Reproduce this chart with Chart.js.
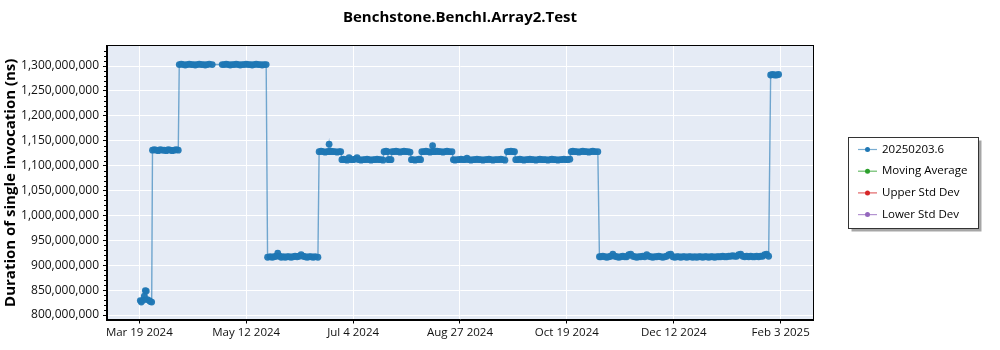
<!DOCTYPE html>
<html>
<head>
<meta charset="utf-8">
<script src="https://cdn.jsdelivr.net/npm/chart.js@4.4.1/dist/chart.umd.min.js"></script>
<style>
html,body{margin:0;padding:0;background:#ffffff;}
#wrap{position:relative;width:1000px;height:350px;}
</style>
</head>
<body>
<div id="wrap"><canvas id="c" width="1000" height="350"></canvas></div>
<script>
const chartTitle = 'Benchstone.BenchI.Array2.Test';
const yAxisTitle = 'Duration of single invocation (ns)';
const seriesLabels = ['20250203.6', 'Moving Average', 'Upper Std Dev', 'Lower Std Dev'];
const seriesColors = ['#1f77b4', '#2ca02c', '#d62728', '#9467bd'];
const xTickDays = [0, 53.5, 107, 160.5, 214, 267.5, 321];
const xTickLabels = ['Mar 19 2024', 'May 12 2024', 'Jul 4 2024', 'Aug 27 2024', 'Oct 19 2024', 'Dec 12 2024', 'Feb 3 2025'];
const yTickValues = [800e6, 850e6, 900e6, 950e6, 1000e6, 1050e6, 1100e6, 1150e6, 1200e6, 1250e6, 1300e6];

// run date as days after Mar 19 2024
const runDayOffsets = [
  0.5,1,2,2.5,3,3.5,4,5,5.5,6.2,
  6.6,7.5,8.5,9.5,10.5,11.5,12.5,13.5,14.5,15.5,16.5,17.5,18.5,19.5,
  20,21,22,23,24,25,26,27,28,29,30,31,32,33,34,35,36.5,
  41.5,42.5,43.5,44.5,45.5,46.5,47.5,48.5,49.5,50.5,51.5,52.5,53.5,54.5,55.5,56.5,57.5,58.5,59.5,60.5,61.5,62.5,63.5,
  64.2,65.5,66.5,67.5,68.5,69.3,70.2,71,72,73,74,75,76,77,78,79,80,81,82,83,84,85,86,87,88,89.4,
  90,91,92,93,94,94.6,95,95.4,96,97,98,99,100,100.8,
  101.4,102.2,103,104,105,106,107,108,109,110,111,112,113,114,115,116,117,118,119,120,121,122,
  122.5,123.5,124.2,124.7,125.3,126,126.5,127.5,128.5,129.5,130.5,131.5,132.5,133.5,134.5,135.5,
  136.2,137,138,139,140,140.8,
  141.4,142.5,143.5,144.5,145.5,146.3,146.8,147.3,148,149,150,151,152,153,154,155,156.5,
  157.2,158,159,160,161,162,163,164,165,166,167,168,169,170,171,172,173,174,175,176,177,178,179,180,181,182,183,
  184.2,185,186,187,187.8,
  188.4,189.5,190.5,191.5,192.5,193.5,194.5,195.5,196.5,197.5,198.5,199.5,200.5,201.5,202.5,203.5,204.5,205.5,206.5,207.5,208.5,209.5,210.5,211.5,212.5,213.5,214.5,215.5,
  216.2,217,218,219,220,221,222,223,224,225,226,227,228,229.5,
  230.3,231,232,233,234,235,236,237,238,239,240,
  241,242,243,244,245,246,247,248,249,250,
  251,252,253,254,255,256,257,258,259,260,
  261,262,263,264,265,266,267,268,269,270,
  271,272,273,274,275,276,277,278,279,280,
  281,282,283,284,285,286,287,288,289,290,
  291,292,293,294,295,296,297,298,299,300,
  301,302,303,304,305,306,307,308,309,310,
  311,312,313,314,315,
  316,317,318,319,320
];

// duration of single invocation, in millions of ns
const durationMillionNs = [
  829,826,830,838,849,848,831,829,827,826,
  1131,1132,1131,1130,1132,1131,1131,1130,1132,1131,1130,1131,1132,1131,
  1303,1304,1303,1302,1303,1304,1303,1303,1302,1303,1304,1303,1303,1302,1303,1304,1303,
  1303,1303,1304,1303,1302,1303,1303,1304,1303,1302,1303,1303,1304,1303,1303,1302,1303,1304,1303,1303,1302,1303,1303,
  916,917,916,917,918,924,918,916,917,916,917,917,916,917,918,917,918,921,918,917,916,917,917,916,917,916,
  1128,1129,1128,1127,1128,1128,1143,1128,1129,1128,1128,1127,1128,1128,
  1112,1113,1112,1111,1116,1112,1112,1113,1116,1112,1111,1112,1112,1113,1112,1111,1112,1112,1113,1112,1112,1111,
  1128,1129,1128,1112,1112,1112,1128,1128,1129,1128,1127,1128,1129,1128,1128,1127,
  1112,1112,1111,1112,1113,1112,
  1128,1128,1129,1128,1127,1128,1140,1128,1128,1129,1128,1128,1127,1128,1129,1128,1128,
  1112,1111,1112,1112,1113,1112,1112,1115,1112,1111,1112,1112,1113,1112,1112,1111,1112,1112,1113,1112,1111,1112,1112,1112,1113,1112,1111,
  1128,1128,1129,1128,1128,
  1112,1112,1113,1112,1111,1112,1112,1113,1112,1112,1111,1112,1113,1112,1112,1112,1111,1112,1113,1112,1112,1111,1112,1112,1113,1112,1112,1113,
  1128,1129,1128,1128,1127,1128,1129,1128,1128,1127,1128,1129,1128,1128,
  917,917,918,917,916,917,918,922,918,917,916,
  917,918,917,917,921,922,918,917,916,917,
  917,918,917,921,918,917,916,917,917,918,
  917,916,917,918,921,922,917,916,917,917,
  916,917,917,916,917,917,916,917,916,917,
  917,916,917,917,916,917,917,916,917,917,
  917,918,917,917,918,918,919,918,918,921,
  922,918,917,918,917,918,917,917,918,917,
  918,918,921,922,918,
  1282,1283,1282,1282,1283
];

const FONT = "'Open Sans', 'Noto Sans', sans-serif";
const seriesPoints = runDayOffsets.map((d, i) => ({ x: d, y: durationMillionNs[i] * 1e6 }));

const backgroundPlugin = {
  id: 'plotBackground',
  beforeDraw(chart) {
    const a = chart.chartArea, ctx = chart.ctx;
    ctx.save();
    ctx.fillStyle = '#e5ebf5';
    ctx.fillRect(a.left, a.top, a.right - a.left, a.bottom - a.top);
    ctx.restore();
  }
};

const framePlugin = {
  id: 'plotFrame',
  afterDatasetsDraw(chart) {
    const a = chart.chartArea, ctx = chart.ctx, y = chart.scales.y;
    ctx.save();
    ctx.strokeStyle = '#000';
    ctx.lineWidth = 1;
    const l = Math.round(a.left) - 0.5, t = Math.round(a.top) - 0.5;
    const r = Math.round(a.right) + 0.5, b = Math.round(a.bottom) + 0.5;
    ctx.strokeRect(l, t, r - l, b - t);
    // minor ticks on the value axis
    ctx.beginPath();
    for (let v = 810e6; v <= 1330e6; v += 10e6) {
      if (v % 50e6 === 0) continue;
      const py = Math.round(y.getPixelForValue(v)) + 0.5;
      ctx.moveTo(l - 2.5, py);
      ctx.lineTo(l, py);
    }
    ctx.stroke();
    ctx.restore();
  }
};

const legendPlugin = {
  id: 'boxLegend',
  afterDraw(chart) {
    const ctx = chart.ctx;
    const bx = 848.5, by = 137.5, bw = 130, bh = 91;
    ctx.save();
    ctx.fillStyle = 'rgba(0,0,0,0.35)';
    ctx.fillRect(bx + 3, by + 3, bw, bh);
    ctx.fillStyle = '#fff';
    ctx.fillRect(bx, by, bw, bh);
    ctx.strokeStyle = '#333';
    ctx.lineWidth = 1;
    ctx.strokeRect(bx, by, bw, bh);
    ctx.font = '11.5px ' + FONT;
    ctx.textBaseline = 'middle';
    ctx.textAlign = 'left';
    chart.data.datasets.forEach((ds, i) => {
      const cy = 149.5 + i * 21.7;
      ctx.strokeStyle = ds.borderColor;
      ctx.lineWidth = 1.2;
      ctx.beginPath();
      ctx.moveTo(858, cy);
      ctx.lineTo(877, cy);
      ctx.stroke();
      ctx.fillStyle = seriesColors[i];
      ctx.beginPath();
      ctx.arc(867.5, cy, 2.5, 0, Math.PI * 2);
      ctx.fill();
      ctx.fillStyle = '#000';
      ctx.fillText(ds.label, 882, cy);
    });
    ctx.restore();
  }
};

new Chart(document.getElementById('c'), {
  type: 'line',
  data: {
    datasets: [
      { label: seriesLabels[0], data: seriesPoints, borderColor: 'rgba(31,119,180,0.6)', backgroundColor: 'rgba(31,119,180,0.95)', borderWidth: 1.4, pointRadius: 3.4, pointBorderWidth: 0, pointHoverRadius: 3.4, tension: 0 },
      { label: seriesLabels[1], data: [], borderColor: 'rgba(44,160,44,0.7)', backgroundColor: seriesColors[1] },
      { label: seriesLabels[2], data: [], borderColor: 'rgba(214,39,40,0.7)', backgroundColor: seriesColors[2] },
      { label: seriesLabels[3], data: [], borderColor: 'rgba(148,103,189,0.7)', backgroundColor: seriesColors[3] }
    ]
  },
  options: {
    animation: false,
    responsive: false,
    layout: { padding: { left: 0, right: 187, top: 0, bottom: 0 } },
    plugins: {
      legend: { display: false },
      tooltip: { enabled: false },
      title: {
        display: true, text: chartTitle, fullSize: false, color: '#000',
        font: { family: FONT, size: 15, weight: 'bold' },
        padding: { top: 9, bottom: 19 }
      }
    },
    scales: {
      x: {
        type: 'linear', min: -16.17, max: 337.2,
        afterBuildTicks: s => { s.ticks = xTickDays.map(v => ({ value: v })); },
        afterFit: s => { s.height = 30.5; },
        ticks: { callback: (v, i) => xTickLabels[i], color: '#111', font: { family: FONT, size: 11.5 }, maxRotation: 0, autoSkip: false, padding: 2 },
        grid: { color: '#ffffff', lineWidth: 1, tickColor: '#000', tickLength: 4 },
        border: { color: '#000', width: 1 }
      },
      y: {
        min: 791e6, max: 1340.2e6,
        afterBuildTicks: s => { s.ticks = yTickValues.map(v => ({ value: v })); },
        afterFit: s => { s.width = 107; },
        ticks: { callback: v => v.toLocaleString('en-US'), color: '#111', font: { family: FONT, size: 12 }, padding: 4 },
        grid: { color: '#ffffff', lineWidth: 1, tickColor: '#000', tickLength: 4 },
        border: { color: '#000', width: 1 },
        title: { display: true, text: yAxisTitle, color: '#000', font: { family: FONT, size: 15, weight: 'bold' }, padding: { top: 2, bottom: 0 } }
      }
    }
  },
  plugins: [backgroundPlugin, framePlugin, legendPlugin]
});
</script>
</body>
</html>
